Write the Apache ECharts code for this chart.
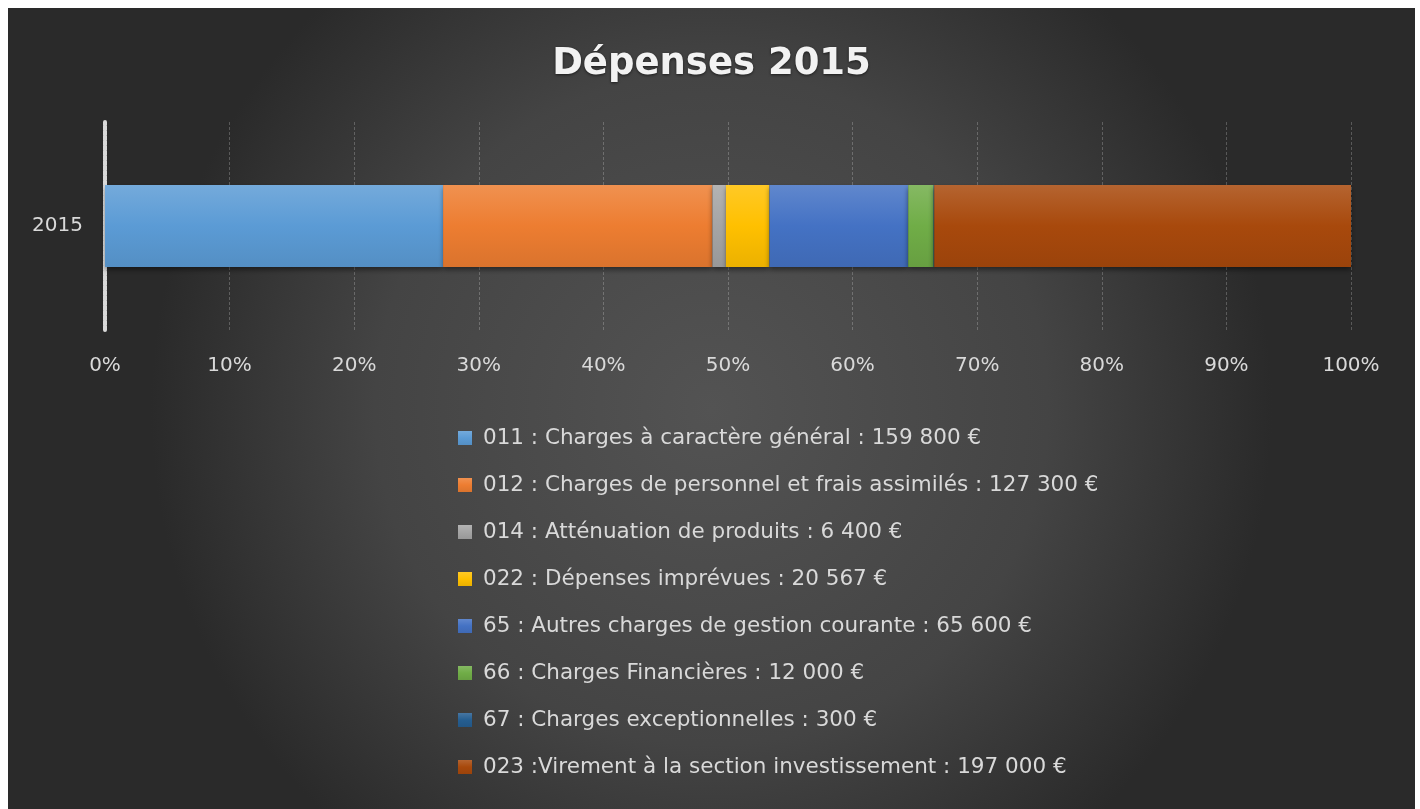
<!DOCTYPE html>
<html>
<head>
<meta charset="utf-8">
<script src="https://cdn.jsdelivr.net/npm/echarts@6/dist/echarts.min.js"></script>
<style>
  html, body { margin: 0; padding: 0; background: #fff; }
  #chart { position: absolute; left: 8px; top: 8px; width: 1407px; height: 801px; }
</style>
</head>
<body>
<div id="chart"></div>
<script>
// chapitres budgétaires et montants (€)
const categories = ['2015']
const names = [
  '011 : Charges à caractère général',
  '012 : Charges de personnel et frais assimilés',
  '014 : Atténuation de produits',
  '022 : Dépenses imprévues',
  '65 : Autres charges de gestion courante',
  '66 : Charges Financières',
  '67 : Charges exceptionnelles',
  '023 :Virement à la section investissement'
]
const amounts = [159800, 127300, 6400, 20567, 65600, 12000, 300, 197000]
const colors = ['#5b9bd5', '#ed7d31', '#a5a5a5', '#ffc000', '#4472c4', '#70ad47', '#255e91', '#a8490c']
const tickLabels = ['0%', '10%', '20%', '30%', '40%', '50%', '60%', '70%', '80%', '90%', '100%']

const total = amounts.reduce((a, b) => a + b, 0)
const fmt = v => String(v).replace(/\B(?=(\d{3})+(?!\d))/g, ' ')

function shade(hex, k) {
  let n = parseInt(hex.slice(1), 16)
  let r = (n >> 16) & 255, g = (n >> 8) & 255, b = n & 255
  const f = c => Math.max(0, Math.min(255, Math.round(k > 0 ? c + (255 - c) * k : c * (1 + k))))
  return 'rgb(' + f(r) + ',' + f(g) + ',' + f(b) + ')'
}

const chart = echarts.init(document.getElementById('chart'))

const series = names.map((n, i) => ({
  name: n,
  type: 'bar',
  stack: 'total',
  barWidth: 82,
  data: [amounts[i] / total * 100],
  itemStyle: {
    color: new echarts.graphic.LinearGradient(0, 0, 0, 1, [
      {offset: 0, color: shade(colors[i], 0.15)},
      {offset: 0.5, color: colors[i]},
      {offset: 1, color: shade(colors[i], -0.08)}
    ]),
    shadowColor: 'rgba(0,0,0,0.45)',
    shadowBlur: 5,
    shadowOffsetY: 3
  }
}))

chart.setOption({
  backgroundColor: new echarts.graphic.RadialGradient(0.5, 0.5, 0.7, [
    {offset: 0, color: '#535353'},
    {offset: 0.6, color: '#444444'},
    {offset: 1, color: '#2a2a2a'}
  ]),
  animation: false,
  color: colors,
  title: {
    text: 'Dépenses 2015',
    left: 'center',
    top: 33,
    textStyle: {
      color: '#f2f2f2',
      fontFamily: 'DejaVu Sans',
      fontWeight: 'bold',
      fontSize: 37,
      textShadowColor: 'rgba(0,0,0,0.6)',
      textShadowBlur: 3,
      textShadowOffsetY: 1
    }
  },
  grid: {
    left: 97,
    right: 64,
    top: 114,
    height: 208
  },
  xAxis: {
    type: 'value',
    min: 0,
    max: 100,
    interval: 10,
    axisLine: {show: false},
    axisTick: {show: false},
    axisLabel: {
      color: '#d9d9d9',
      fontFamily: 'DejaVu Sans',
      fontSize: 20,
      margin: 26,
      formatter: v => tickLabels[Math.round(v / 10)]
    },
    splitLine: {
      lineStyle: {color: 'rgba(255,255,255,0.22)', type: [3, 2], width: 1}
    }
  },
  yAxis: {
    type: 'category',
    data: categories,
    axisLine: {
      show: true,
      lineStyle: {color: '#d9d9d9', width: 4, type: [4, 1]}
    },
    axisTick: {show: false},
    axisLabel: {
      color: '#d9d9d9',
      fontFamily: 'DejaVu Sans',
      fontSize: 20,
      margin: 22
    }
  },
  legend: {
    orient: 'vertical',
    left: 445,
    top: 414,
    itemWidth: 14,
    itemHeight: 14,
    itemGap: 25,
    icon: 'rect',
    selectedMode: false,
    data: names,
    formatter: n => n + ' : ' + fmt(amounts[names.indexOf(n)]) + ' €',
    textStyle: {
      color: '#d9d9d9',
      fontFamily: 'DejaVu Sans',
      fontSize: 21.5,
      lineHeight: 22,
      padding: [0, 0, 0, 6]
    }
  },
  series: series
})
</script>
</body>
</html>
